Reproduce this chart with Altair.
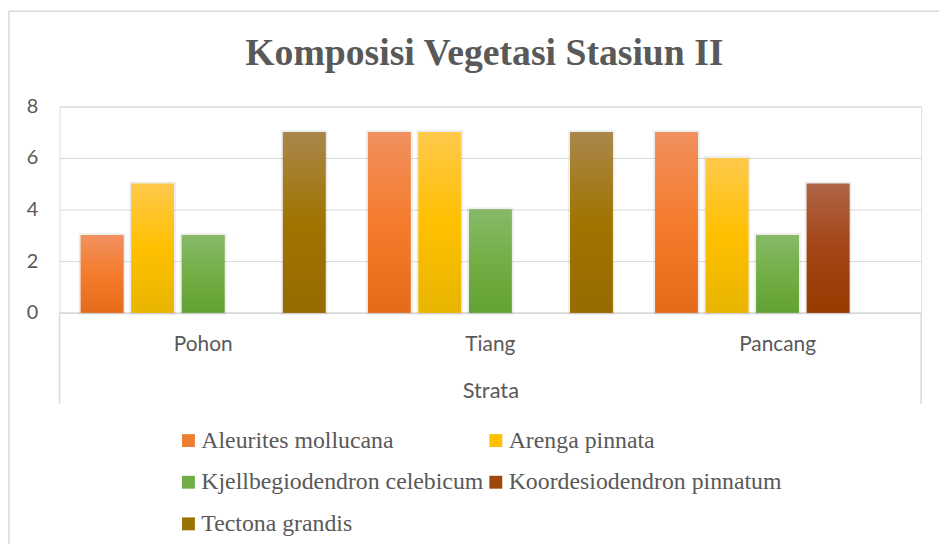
import altair as alt
import pandas as pd

strata = ["Pohon", "Tiang", "Pancang"]
species = [
    "Aleurites mollucana",
    "Arenga pinnata",
    "Kjellbegiodendron celebicum",
    "Koordesiodendron pinnatum",
    "Tectona grandis",
]
aleurites = [3, 7, 7]
arenga = [5, 7, 6]
kjellbegiodendron = [3, 4, 3]
koordesiodendron = [0, 0, 5]
tectona = [7, 7, 0]

series = [aleurites, arenga, kjellbegiodendron, koordesiodendron, tectona]
base_colors = ["#ED7D31", "#FFC000", "#70AD47", "#9E480E", "#997300"]
grad_stops = [
    ["#F1905F", "#F47C2C", "#E46B19"],
    ["#FFC94C", "#FFC000", "#E8B500"],
    ["#87B968", "#72AF45", "#62A133"],
    ["#AE6547", "#A44516", "#993A00"],
    ["#A9874B", "#A07400", "#966B00"],
]

rows = []
for sp, vals in zip(species, series):
    for st, v in zip(strata, vals):
        rows.append({"Strata": st, "Species": sp, "Value": v})
df = pd.DataFrame(rows)
df = df[df["Value"] > 0]

W, H = 869, 208
GRAY = "#595959"
SANS = "Lato"
SERIF = "Liberation Serif"

x_enc = alt.X(
    "Strata:N",
    sort=strata,
    scale=alt.Scale(paddingInner=0, paddingOuter=0),
    axis=alt.Axis(
        title="Strata",
        labelAngle=0,
        labelFont=SANS,
        labelFontSize=21,
        labelColor=GRAY,
        labelPadding=21,
        ticks=False,
        domainColor="#D9D9D9",
        domainWidth=1.5,
        titleFont=SANS,
        titleFontSize=22,
        titleFontWeight="normal",
        titleColor=GRAY,
        titlePadding=27,
        grid=False,
    ),
)
xo_enc = alt.XOffset(
    "Species:N",
    sort=species,
    scale=alt.Scale(domain=species, paddingInner=0.157, paddingOuter=0.42),
)
y_enc = alt.Y(
    "Value:Q",
    scale=alt.Scale(domain=[0, 8], nice=False),
    axis=alt.Axis(
        title=None,
        values=[0, 2, 4, 6, 8],
        labelFont=SANS,
        labelFontSize=20,
        labelColor=GRAY,
        labelPadding=22,
        ticks=False,
        domain=False,
        gridColor="#D9D9D9",
        gridWidth=1,
    ),
)

base = alt.Chart(df)

shadow = base.mark_bar(
    fill="#000000", fillOpacity=0, stroke="#808080", strokeOpacity=0.14, strokeWidth=4
).encode(x=x_enc, xOffset=xo_enc, y=y_enc)

solid = base.mark_bar().encode(
    x=x_enc,
    xOffset=xo_enc,
    y=y_enc,
    color=alt.Color(
        "Species:N",
        scale=alt.Scale(domain=species, range=base_colors),
        legend=alt.Legend(
            title=None,
            orient="none",
            direction="horizontal",
            legendX=118,
            legendY=325,
            columns=2,
            symbolType="square",
            symbolSize=169,
            symbolStrokeWidth=0,
            labelFont=SERIF,
            labelFontSize=24,
            labelColor=GRAY,
            labelLimit=500,
            labelOffset=1,
            columnPadding=0,
            rowPadding=18,
        ),
    ),
)

grad_layers = []
for sp, stops in zip(species, grad_stops):
    g = alt.Gradient(
        gradient="linear",
        stops=[
            alt.GradientStop(color=stops[0], offset=0),
            alt.GradientStop(color=stops[1], offset=0.5),
            alt.GradientStop(color=stops[2], offset=1),
        ],
        x1=0, x2=0, y1=0, y2=1,
    )
    grad_layers.append(
        base.transform_filter(alt.datum.Species == sp)
        .mark_bar(color=g)
        .encode(x=x_enc, xOffset=xo_enc, y=y_enc)
    )

one = pd.DataFrame({"k": [0]})
box_left = alt.Chart(one).mark_rule(color="#D9D9D9", strokeWidth=1.5).encode(
    x=alt.value(0), y=alt.value(H), y2=alt.value(H + 92)
)
box_right = alt.Chart(one).mark_rule(color="#D9D9D9", strokeWidth=1.5).encode(
    x=alt.value(W), y=alt.value(H), y2=alt.value(H + 92)
)
frame_left = alt.Chart(one).mark_rule(color="#D9D9D9", strokeWidth=1.5).encode(
    x=alt.value(-51), y=alt.value(-96), y2=alt.value(H + 260)
)
frame_top = alt.Chart(one).mark_rule(color="#D9D9D9", strokeWidth=1.5).encode(
    x=alt.value(-51), x2=alt.value(W + 40), y=alt.value(-96)
)

chart = alt.layer(
    shadow, solid, *grad_layers, box_left, box_right, frame_left, frame_top
).properties(
    width=W,
    height=H,
    padding={"left": 52, "top": 97, "right": 18, "bottom": 231},
    autosize=alt.AutoSizeParams(type="none"),
    title=alt.TitleParams(
        "Komposisi Vegetasi Stasiun II",
        font=SERIF,
        fontSize=38,
        fontWeight="bold",
        color=GRAY,
        anchor="middle",
        baseline="alphabetic",
        dx=-6,
        offset=-93,
    ),
).configure_view(stroke=None).configure(background="white")

chart.save("out.html", embed_options={"renderer": "svg", "actions": False})
